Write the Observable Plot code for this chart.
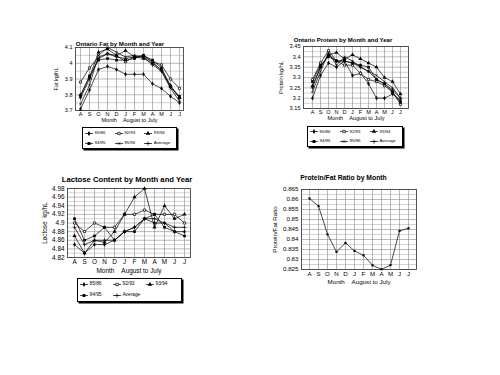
<!DOCTYPE html>
<html><head><meta charset="utf-8">
<script src="https://cdn.jsdelivr.net/npm/d3@7"></script>
<script src="https://cdn.jsdelivr.net/npm/@observablehq/plot@0.6"></script>
<style>
body{margin:0;background:#fff;}
#root{position:relative;width:500px;height:375px;overflow:hidden;font-family:Arial,"Liberation Sans",sans-serif;color:#000;background:#fff;}
.title{position:absolute;font-weight:bold;white-space:nowrap;transform:translate(-50%,-50%);line-height:1;}
.legend{position:absolute;box-sizing:border-box;border:1px solid #000;box-shadow:1.5px 1.5px 0 #000;background:#fff;display:grid;grid-template-columns:repeat(3,1fr);align-items:center;padding:0 2px;}
.legend span{display:flex;align-items:center;white-space:nowrap;line-height:1;}
.legend svg{margin-right:1.5px;flex:none;}
</style>
</head><body><div id="root"></div>
<script>
const months = ["A","S","O","N","D","J","F","M","A","M","J","J"];
const xLabel = "Month\u00a0\u00a0\u00a0\u00a0August to July";

// Fat (kg/hL)
const fatNames = ["85/86","92/93","93/94","94/95","95/96","Average"];
const fat8586 = [3.71,3.83,3.96,3.98,3.96,3.93,3.93,3.93,3.87,3.84,3.79,3.75];
const fat9293 = [3.88,3.97,4.04,4.06,4.05,4.01,4.04,4.05,4.01,3.99,3.90,3.84];
const fat9394 = [3.80,3.91,4.07,4.09,4.05,4.08,4.04,4.03,4.00,3.96,3.86,3.78];
const fat9495 = [3.79,3.92,4.02,4.03,4.02,4.02,4.03,4.05,4.02,3.97,3.85,3.79];
const fat9596 = [3.74,3.86,4.05,4.10,4.07,4.04,4.05,4.04,4.01,3.95,3.84,3.76];
const fatAvg  = [3.78,3.90,4.03,4.06,4.04,4.03,4.04,4.04,3.99,3.95,3.85,3.78];
const fatTicks = [3.7,3.8,3.9,4.0,4.1];
const fatMinor = [3.75,3.85,3.95,4.05];

// Protein (kg/hL)
const protNames = ["85/86","92/93","93/94","94/95","95/96","Average"];
const prot8586 = [3.20,3.31,3.37,3.35,3.38,3.31,3.32,3.27,3.20,3.20,3.22,3.19];
const prot9293 = [3.29,3.37,3.43,3.38,3.36,3.36,3.32,3.29,3.28,3.26,3.23,3.17];
const prot9394 = [3.26,3.35,3.41,3.42,3.39,3.41,3.39,3.37,3.35,3.30,3.28,3.22];
const prot9495 = [3.28,3.36,3.40,3.38,3.38,3.37,3.36,3.35,3.29,3.27,3.23,3.18];
const prot9596 = [3.23,3.33,3.42,3.36,3.40,3.38,3.35,3.33,3.31,3.28,3.25,3.20];
const protAvg  = [3.25,3.35,3.41,3.38,3.38,3.37,3.35,3.33,3.29,3.27,3.24,3.20];
const protTicks = [3.15,3.2,3.25,3.3,3.35,3.4,3.45];
const protMinor = [3.175,3.225,3.275,3.325,3.375,3.425];

// Lactose (kg/hL)
const lacNames = ["85/86","92/93","93/94","94/95","Average"];
const lac8586 = [4.85,4.83,4.85,4.85,4.86,4.88,4.89,4.91,4.90,4.90,4.88,4.88];
const lac9293 = [4.90,4.88,4.90,4.89,4.89,4.92,4.92,4.93,4.92,4.92,4.92,4.90];
const lac9394 = [4.87,4.83,4.86,4.855,4.88,4.92,4.96,4.98,4.89,4.94,4.91,4.92];
const lac9495 = [4.91,4.86,4.87,4.89,4.86,4.88,4.88,4.91,4.92,4.89,4.88,4.87];
const lacAvg  = [4.89,4.85,4.86,4.86,4.86,4.88,4.89,4.91,4.91,4.90,4.89,4.89];
const lacTicks = [4.82,4.84,4.86,4.88,4.9,4.92,4.94,4.96,4.98];
const lacMinor = [4.83,4.85,4.87,4.89,4.91,4.93,4.95,4.97];

// Protein/Fat ratio
const ratioNames = ["Ratio"];
const ratioVals = [0.8605,0.8567,0.8426,0.8338,0.8383,0.8343,0.8321,0.8271,0.8251,0.8272,0.8443,0.8456];
const ratioTicks = [0.825,0.83,0.835,0.84,0.845,0.85,0.855,0.86,0.865];
const ratioMinor = [0.8275,0.8325,0.8375,0.8425,0.8475,0.8525,0.8575,0.8625];

const styles = {
  "85/86":  {symbol:"diamond", fill:"#000", r:1.4},
  "92/93":  {symbol:"square2", fill:"#fff", stroke:"#000", r:1.4, strokeWidth:0.7},
  "93/94":  {symbol:"triangle", fill:"#000", r:1.5},
  "94/95":  {symbol:"square", fill:"#000", r:1.5},
  "95/96":  {symbol:"times", stroke:"#000", r:1.2, strokeWidth:0.6},
  "Average":{symbol:"plus", stroke:"#000", r:1.3, strokeWidth:0.7},
  "Ratio":  {symbol:"square", fill:"#000", r:1.2}
};
const d3sym = {diamond:d3.symbolDiamond, square2:d3.symbolSquare2, triangle:d3.symbolTriangle, square:d3.symbolSquare, times:d3.symbolTimes, plus:d3.symbolPlus};

const root = document.getElementById("root");
const fmt = d => String(+d.toFixed(4));

function title(text, cx, cy, fs) {
  const t = document.createElement("div");
  t.className = "title"; t.textContent = text;
  t.style.left = cx + "px"; t.style.top = cy + "px"; t.style.fontSize = fs + "px";
  root.appendChild(t);
}

function legend(names, x, y, w, h, fs) {
  const div = document.createElement("div");
  div.className = "legend";
  Object.assign(div.style, {left:x+"px", top:y+"px", width:w+"px", height:h+"px", fontSize:fs+"px"});
  for (const n of names) {
    const s = styles[n];
    const sp = document.createElement("span");
    const size = s.r * s.r * Math.PI * 1.2;
    const path = d3.symbol(d3sym[s.symbol], size)();
    sp.innerHTML = `<svg width="8" height="5" viewBox="-4 -2.5 8 5"><line x1="-4" x2="4" y1="0" y2="0" stroke="#000" stroke-width="0.7"/><path d="${path}" fill="${s.fill || "none"}" stroke="${s.stroke || "none"}" stroke-width="${s.strokeWidth || 0}"/></svg>`;
    sp.appendChild(document.createTextNode(n));
    div.appendChild(sp);
  }
  root.appendChild(div);
}

function panel(p) {
  const data = p.series.flatMap((vals, k) => vals.map((v, i) => ({i, v, s: p.names[k]})));
  const marks = [
    Plot.ruleY(p.minor, {stroke:"#b5b5b5", strokeWidth:0.6}),
    Plot.ruleY(p.ticks, {stroke:"#8a8a8a", strokeWidth:0.6}),
    Plot.ruleX(d3.range(12), {stroke:"#8a8a8a", strokeWidth:0.6}),
    Plot.frame({stroke:"#444", strokeWidth:0.9}),
    Plot.axisX(d3.range(12), {tickFormat: i => months[i], tickSize:0, tickPadding:p.xPad, fontSize:p.fs,
      label: xLabel, labelAnchor:"center", labelOffset:p.xlo}),
    Plot.axisY(p.ticks, {tickFormat: fmt, tickSize:0, tickPadding:p.yPad, fontSize:p.fs,
      label: p.ylabel, labelAnchor:"center", labelArrow:"none", labelOffset:p.ylo}),
    Plot.line(data, {x:"i", y:"v", z:"s", stroke:"#000", strokeWidth:0.7}),
    ...p.names.map(n => Plot.dot(data.filter(d => d.s === n), {x:"i", y:"v", ...styles[n]}))
  ];
  const svg = Plot.plot({
    width:p.w, height:p.h, marginLeft:p.ml, marginRight:p.mr, marginTop:p.mt, marginBottom:p.mb,
    x:{type:"point", domain:d3.range(12), padding:p.pad},
    y:{domain:p.domain},
    style:{fontFamily:"Arial, 'Liberation Sans', sans-serif", fontSize:p.fs+"px", background:"transparent", color:"#000", overflow:"visible"},
    marks
  });
  svg.style.position = "absolute";
  svg.style.left = p.x + "px";
  svg.style.top = p.y + "px";
  root.appendChild(svg);
}

// Fat panel
panel({x:40, y:40, w:150, h:90, ml:35, mr:7, mt:7, mb:20, pad:0.3, domain:[3.7,4.1],
  ticks:fatTicks, minor:fatMinor, fs:5.5, xPad:2, xlo:11, yPad:3, ylo:21, ylabel:"Fat kg/hL",
  names:fatNames, series:[fat8586,fat9293,fat9394,fat9495,fat9596,fatAvg]});
title("Ontario Fat by Month and Year", 120, 43.5, 6.1);
legend(fatNames, 82, 127, 95, 22, 4.4);

// Protein panel
panel({x:265, y:38, w:150, h:92, ml:38, mr:7, mt:8, mb:22, pad:0.35, domain:[3.15,3.45],
  ticks:protTicks, minor:protMinor, fs:5.6, xPad:2, xlo:11, yPad:3, ylo:24, ylabel:"Protein kg/hL",
  names:protNames, series:[prot8586,prot9293,prot9394,prot9495,prot9596,protAvg]});
title("Ontario Protein by Month and Year", 343, 39.5, 6);
legend(protNames, 307, 126, 96, 21, 4.4);

// Lactose panel
panel({x:30, y:180, w:168, h:100, ml:37, mr:8, mt:8, mb:23, pad:0.5, domain:[4.82,4.98],
  ticks:lacTicks, minor:lacMinor, fs:6.4, xPad:2, xlo:15, yPad:3, ylo:25, ylabel:"Lactose\u00a0\u00a0kg/hL",
  names:lacNames, series:[lac8586,lac9293,lac9394,lac9495,lacAvg]});
title("Lactose Content by Month and Year", 127, 180, 7.7);
legend(lacNames, 77, 278, 105, 24, 4.8);

// Protein/Fat ratio panel
panel({x:262, y:182, w:160, h:108, ml:39, mr:6, mt:7, mb:21, pad:0.5, domain:[0.825,0.865],
  ticks:ratioTicks, minor:ratioMinor, fs:6.2, xPad:2, xlo:14, yPad:3, ylo:29, ylabel:"Protein/Fat Ratio",
  names:ratioNames, series:[ratioVals]});
title("Protein/Fat Ratio by Month", 343.5, 178, 6.8);
</script>
</body></html>
